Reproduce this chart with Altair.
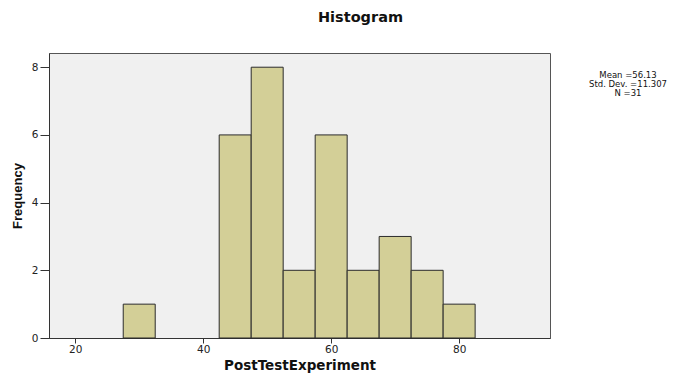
import altair as alt
import pandas as pd

bin_centers = [30, 45, 50, 55, 60, 65, 70, 75, 80]
counts = [1, 6, 8, 2, 6, 2, 3, 2, 1]
bin_width = 5
x_ticks = [20, 40, 60, 80]
y_ticks = [0, 2, 4, 6, 8]
stats_lines = ["Mean =56.13", "Std. Dev. =11.307", "N =31"]

df = pd.DataFrame({
    "start": [c - bin_width / 2 for c in bin_centers],
    "end": [c + bin_width / 2 for c in bin_centers],
    "count": counts,
})

WIDE = "DejaVu Sans"
NARROW = "Liberation Sans"

bars = alt.Chart(df).mark_rect(
    fill="#d3cf97", stroke="#2b2b2b", strokeWidth=1
).encode(
    x=alt.X("start:Q", scale=alt.Scale(domain=[15.9, 94.2], nice=False, zero=False),
            axis=alt.Axis(values=x_ticks, title="PostTestExperiment", grid=False,
                          tickSize=5, labelPadding=1, titlePadding=4,
                          titleFont=WIDE, titleFontSize=13.5)),
    x2="end:Q",
    y=alt.Y("count:Q", scale=alt.Scale(domain=[0, 8.42], nice=False),
            axis=alt.Axis(values=y_ticks, title="Frequency", grid=False,
                          tickSize=9, labelPadding=2, titlePadding=7,
                          titleFont=NARROW, titleFontSize=13)),
    y2=alt.datum(0),
)

stats = alt.Chart(pd.DataFrame({"t": [stats_lines]})).mark_text(
    font=WIDE, fontSize=8.5, align="center", baseline="middle", color="#111", lineHeight=9
).encode(
    text="t",
    x=alt.value(579),
    y=alt.value(22),
)

chart = alt.layer(bars, stats).properties(
    width=501, height=285,
    title=alt.TitleParams("Histogram", fontSize=14.5, font=WIDE, fontWeight="bold",
                          anchor="middle", dx=61, offset=28, color="#111"),
    autosize=alt.AutoSizeParams(type="none"),
    padding={"left": 41, "top": 45, "right": 132, "bottom": 38},
).configure_view(
    fill="#f0f0f0", stroke="#555555", strokeWidth=1
).configure_axis(
    labelFont=WIDE, labelFontSize=10.5, labelColor="#222",
    titleFontWeight="bold", titleColor="#111",
    domainColor="#333", tickColor="#333", domainWidth=1,
)

chart.save("out.html", embed_options={"renderer": "svg", "actions": False})
